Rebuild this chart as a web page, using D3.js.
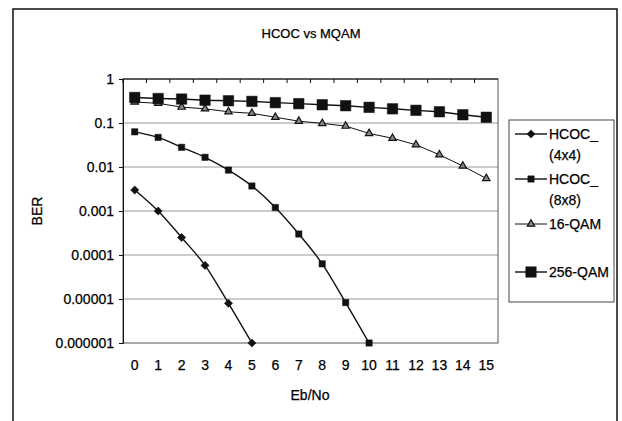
<!DOCTYPE html>
<html>
<head>
<meta charset="utf-8">
<script src="https://cdn.jsdelivr.net/npm/d3@7"></script>
<style>
  body { margin: 0; background: #fff; }
  text { font-family: "Liberation Sans", Arial, sans-serif; fill: #000; stroke: #000; stroke-width: 0.25px; }
</style>
</head>
<body>
<div id="container"></div>
<script>
// chart data
var ebno = ['0','1','2','3','4','5','6','7','8','9','10','11','12','13','14','15'];
var hcoc4 = [0.003, 0.001, 0.00025, 0.000058, 0.000008, 0.000001];
var hcoc8 = [0.063, 0.047, 0.028, 0.0166, 0.0085, 0.0037, 0.0012, 0.0003, 0.000063, 0.0000083, 0.000001];
var qam16 = [0.30, 0.28, 0.23, 0.21, 0.18, 0.166, 0.135, 0.11, 0.098, 0.085, 0.058, 0.045, 0.032, 0.019, 0.0105, 0.0055];
var qam256 = [0.38, 0.36, 0.35, 0.33, 0.32, 0.31, 0.29, 0.275, 0.26, 0.247, 0.227, 0.21, 0.194, 0.18, 0.154, 0.135];
var yTicks = [1, 0.1, 0.01, 0.001, 0.0001, 0.00001, 0.000001];
var yTickLabels = ['1', '0.1', '0.01', '0.001', '0.0001', '0.00001', '0.000001'];

var width = 622, height = 421;
var plot = { left: 123, top: 79, right: 498, bottom: 343 };
var font = '"Liberation Sans", Arial, sans-serif';

var svg = d3.select('#container').append('svg')
  .attr('width', width).attr('height', height);

// outer chart frame
svg.append('rect')
  .attr('x', 13).attr('y', 9).attr('width', 604).attr('height', 430)
  .attr('fill', 'none').attr('stroke', '#111').attr('stroke-width', 1.5);

var x = d3.scaleBand().domain(ebno).range([plot.left, plot.right]);
var y = d3.scaleLog().domain([0.000001, 1]).range([plot.bottom, plot.top]);

// gridlines
svg.append('g').selectAll('line')
  .data(yTicks.slice(1, -1))
  .enter().append('line')
  .attr('x1', plot.left).attr('x2', plot.right)
  .attr('y1', function(d) { return y(d); }).attr('y2', function(d) { return y(d); })
  .attr('stroke', '#9a9a9a').attr('stroke-width', 1);

// plot area border
svg.append('rect')
  .attr('x', plot.left).attr('y', plot.top)
  .attr('width', plot.right - plot.left).attr('height', plot.bottom - plot.top)
  .attr('fill', 'none').attr('stroke', '#555').attr('stroke-width', 1);

// y axis
var yAxis = d3.axisLeft(y).tickValues(yTicks).tickSize(4).tickPadding(5)
  .tickFormat(function(d, i) { return yTickLabels[i]; });
var gy = svg.append('g').attr('transform', 'translate(' + plot.left + ',0)').call(yAxis);
gy.select('.domain').attr('stroke', '#111');
gy.selectAll('.tick line').attr('stroke', '#111');
gy.selectAll('text').attr('font-size', 14).attr('font-family', font).attr('fill', '#000');

// category ticks along the top edge, labels below the plot
svg.append('line')
  .attr('x1', plot.left).attr('x2', plot.right)
  .attr('y1', plot.top).attr('y2', plot.top).attr('stroke', '#111');
svg.append('g').selectAll('line')
  .data(ebno)
  .enter().append('line')
  .attr('x1', function(d) { return x(d); }).attr('x2', function(d) { return x(d); })
  .attr('y1', plot.top).attr('y2', plot.top + 4)
  .attr('stroke', '#111');
svg.append('g').selectAll('text')
  .data(ebno)
  .enter().append('text')
  .attr('x', function(d) { return x(d) + x.bandwidth() / 2; })
  .attr('y', 370)
  .attr('text-anchor', 'middle').attr('font-size', 14)
  .text(function(d) { return d; });

// titles
svg.append('text').attr('x', 311).attr('y', 38).attr('text-anchor', 'middle')
  .attr('font-size', 13).text('HCOC vs MQAM');
svg.append('text').attr('x', 310).attr('y', 400).attr('text-anchor', 'middle')
  .attr('font-size', 14).text('Eb/No');
svg.append('text').attr('transform', 'translate(42,211) rotate(-90)')
  .attr('text-anchor', 'middle').attr('font-size', 14).text('BER');

var series = [
  { name: ['HCOC_', '(4x4)'], values: hcoc4, marker: 'diamond', size: 34, width: 1.4, smooth: true },
  { name: ['HCOC_', '(8x8)'], values: hcoc8, marker: 'square', size: 40, width: 1.4, smooth: true },
  { name: ['16-QAM'], values: qam16, marker: 'triangle', size: 24, width: 1, smooth: false },
  { name: ['256-QAM'], values: qam256, marker: 'square', size: 110, width: 1.4, smooth: false }
];

function drawMarker(sel, s) {
  var type = s.marker === 'triangle' ? d3.symbolTriangle : d3.symbolSquare;
  sel.append('path')
    .attr('d', d3.symbol().type(type).size(s.size))
    .attr('transform', s.marker === 'diamond' ? 'rotate(45)' : null)
    .attr('fill', s.marker === 'triangle' ? '#888' : '#111')
    .attr('stroke', '#111').attr('stroke-width', s.marker === 'triangle' ? 1.2 : 0.5);
}

series.forEach(function(s) {
  var line = d3.line()
    .x(function(d, i) { return x(ebno[i]) + x.bandwidth() / 2; })
    .y(function(d) { return y(d); })
    .curve(s.smooth ? d3.curveCardinal.tension(0) : d3.curveLinear);

  svg.append('path').datum(s.values)
    .attr('d', line)
    .attr('fill', 'none').attr('stroke', '#111').attr('stroke-width', s.width);

  svg.append('g').selectAll('g')
    .data(s.values)
    .enter().append('g')
    .attr('transform', function(d, i) {
      return 'translate(' + (x(ebno[i]) + x.bandwidth() / 2) + ',' + y(d) + ')';
    })
    .each(function() { drawMarker(d3.select(this), s); });
});

// legend
var legend = svg.append('g');
legend.append('rect')
  .attr('x', 509).attr('y', 120).attr('width', 105).attr('height', 182)
  .attr('fill', '#fff').attr('stroke', '#444').attr('stroke-width', 1);

var legendY = [134, 179, 224, 272];
series.forEach(function(s, i) {
  var ly = legendY[i];
  legend.append('line')
    .attr('x1', 515).attr('x2', 547).attr('y1', ly).attr('y2', ly)
    .attr('stroke', '#111').attr('stroke-width', s.width);
  drawMarker(legend.append('g').attr('transform', 'translate(531,' + ly + ')'), s);
  s.name.forEach(function(t, j) {
    legend.append('text')
      .attr('x', 549).attr('y', ly + 5 + j * 21)
      .attr('font-size', 14).text(t);
  });
});
</script>
</body>
</html>
